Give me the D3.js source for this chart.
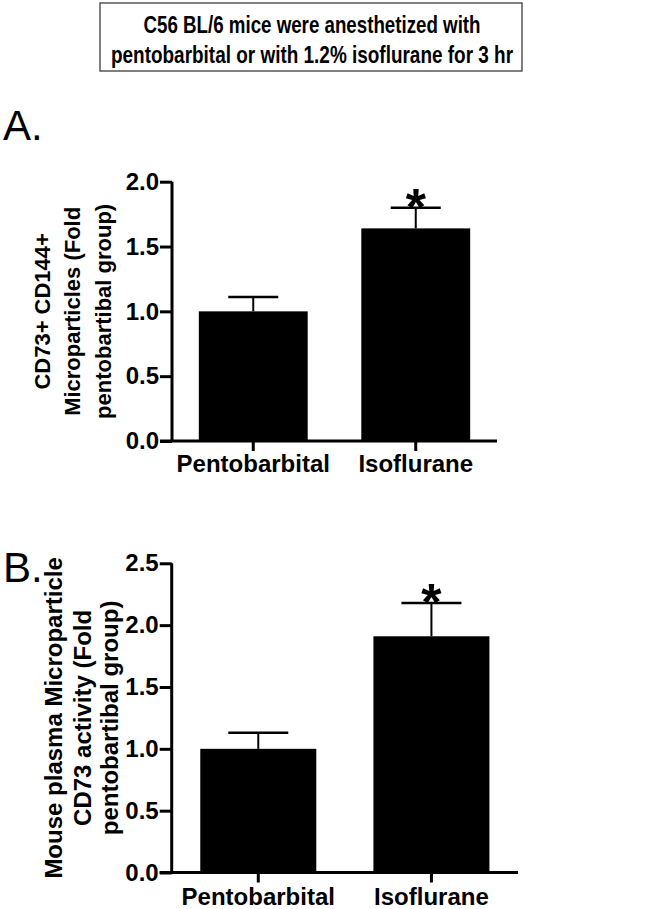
<!DOCTYPE html>
<html>
<head>
<meta charset="utf-8">
<script src="https://cdn.jsdelivr.net/npm/d3@7"></script>
<style>
  body { margin: 0; background: #fff; }
  text { font-family: "Liberation Sans", Arial, sans-serif; fill: #000; }
</style>
</head>
<body>
<svg id="fig" width="656" height="909"></svg>
<script>
var groups = ["Pentobarbital", "Isoflurane"];

var meanA = [1.0, 1.64];
var semA = [0.11, 0.16];
var ticksA = [0, 0.5, 1.0, 1.5, 2.0];

var meanB = [1.0, 1.91];
var semB = [0.13, 0.27];
var ticksB = [0, 0.5, 1.0, 1.5, 2.0, 2.5];

var titleLines = ["C56 BL/6 mice were anesthetized with", "pentobarbital or with 1.2% isoflurane for 3 hr"];
var labelA = ["CD73+ CD144+", "Microparticles (Fold", "pentobartibal group)"];
var labelB = ["Mouse plasma Microparticle", "CD73 activity (Fold", "pentobartibal group)"];

var svg = d3.select("#fig");

// title box, text squeezed to look like a narrow face
svg.append("rect").attr("x", 100).attr("y", 3).attr("width", 422).attr("height", 68)
  .attr("fill", "none").attr("stroke", "#555").attr("stroke-width", 1.5);
var titleW = [337, 402];
svg.selectAll(".title").data(titleLines).enter().append("text")
  .attr("class", "title")
  .attr("x", 312).attr("y", function (d, i) { return 33 + i * 30; })
  .attr("text-anchor", "middle")
  .attr("textLength", function (d, i) { return titleW[i]; })
  .attr("lengthAdjust", "spacingAndGlyphs")
  .style("font-weight", "bold").style("font-size", "24px")
  .text(function (d) { return d; });

function panel(cfg) {
  var x = d3.scaleBand().domain(groups).range([cfg.x0, cfg.x1]).paddingInner(0.33).paddingOuter(0.165);
  var y = d3.scaleLinear().domain([0, cfg.max]).range([cfg.y0, cfg.y1]);
  var g = svg.append("g");

  g.selectAll(".bar").data(cfg.mean).enter().append("rect")
    .attr("x", function (d, i) { return x(groups[i]); })
    .attr("width", x.bandwidth())
    .attr("y", function (d) { return y(d); })
    .attr("height", function (d) { return y(0) - y(d); })
    .attr("fill", "#000");

  // error bars, upper half only
  var eb = g.selectAll(".err").data(cfg.mean).enter().append("g");
  eb.append("line")
    .attr("x1", function (d, i) { return x(groups[i]) + x.bandwidth() / 2; })
    .attr("x2", function (d, i) { return x(groups[i]) + x.bandwidth() / 2; })
    .attr("y1", function (d) { return y(d); })
    .attr("y2", function (d, i) { return y(d + cfg.sem[i]); })
    .attr("stroke", "#000").attr("stroke-width", 2);
  eb.append("line")
    .attr("x1", function (d, i) { return x(groups[i]) + x.bandwidth() / 2 - cfg.cap; })
    .attr("x2", function (d, i) { return x(groups[i]) + x.bandwidth() / 2 + cfg.cap; })
    .attr("y1", function (d, i) { return y(d + cfg.sem[i]); })
    .attr("y2", function (d, i) { return y(d + cfg.sem[i]); })
    .attr("stroke", "#000").attr("stroke-width", 2.5);

  g.append("text")
    .attr("x", x(groups[1]) + x.bandwidth() / 2)
    .attr("y", y(cfg.mean[1] + cfg.sem[1]) + 17)
    .attr("text-anchor", "middle")
    .style("font-size", "52px").style("font-weight", "bold")
    .text("*");

  var ya = g.append("g").attr("transform", "translate(" + cfg.x0 + ",0)")
    .call(d3.axisLeft(y).tickValues(cfg.ticks).tickFormat(d3.format(".1f")).tickSize(12).tickPadding(1));
  var xa = g.append("g").attr("transform", "translate(0," + cfg.y0 + ")")
    .call(d3.axisBottom(x).tickSize(10).tickPadding(cfg.xpad));
  [ya, xa].forEach(function (a) {
    a.selectAll("path, line").attr("stroke", "#000").attr("stroke-width", 3);
    a.selectAll("text").style("font-size", "24px").style("font-weight", "bold")
      .style("font-family", "'Liberation Sans', Arial, sans-serif").attr("fill", "#000");
  });
  xa.select(".domain").attr("d", "M" + (cfg.x0 - 12) + ",0H" + cfg.x1);
  ya.select(".domain").attr("d", "M0," + cfg.y1 + "V" + cfg.y0);

  var cy = (cfg.y0 + cfg.y1) / 2;
  g.selectAll(".ylab").data(cfg.label).enter().append("text")
    .attr("transform", function (d, i) { return "translate(" + cfg.lx[i] + "," + cy + ") rotate(-90)"; })
    .attr("text-anchor", "middle")
    .style("font-size", cfg.lfs + "px").style("font-weight", "bold")
    .text(function (d) { return d; });

  svg.append("text").attr("x", 3).attr("y", cfg.letterY)
    .style("font-size", "42px")
    .text(cfg.letter);
}

panel({ x0: 172, x1: 497, y0: 441, y1: 181.7, max: 2.0, ticks: ticksA, mean: meanA, sem: semA,
  cap: 25, xpad: 4, label: labelA, lx: [50, 80, 111], lfs: 22, letter: "A.", letterY: 140 });
panel({ x0: 171.7, x1: 518, y0: 872.5, y1: 563.3, max: 2.5, ticks: ticksB, mean: meanB, sem: semB,
  cap: 30, xpad: 5, label: labelB, lx: [62, 91, 118], lfs: 24, letter: "B.", letterY: 582 });
</script>
</body>
</html>
